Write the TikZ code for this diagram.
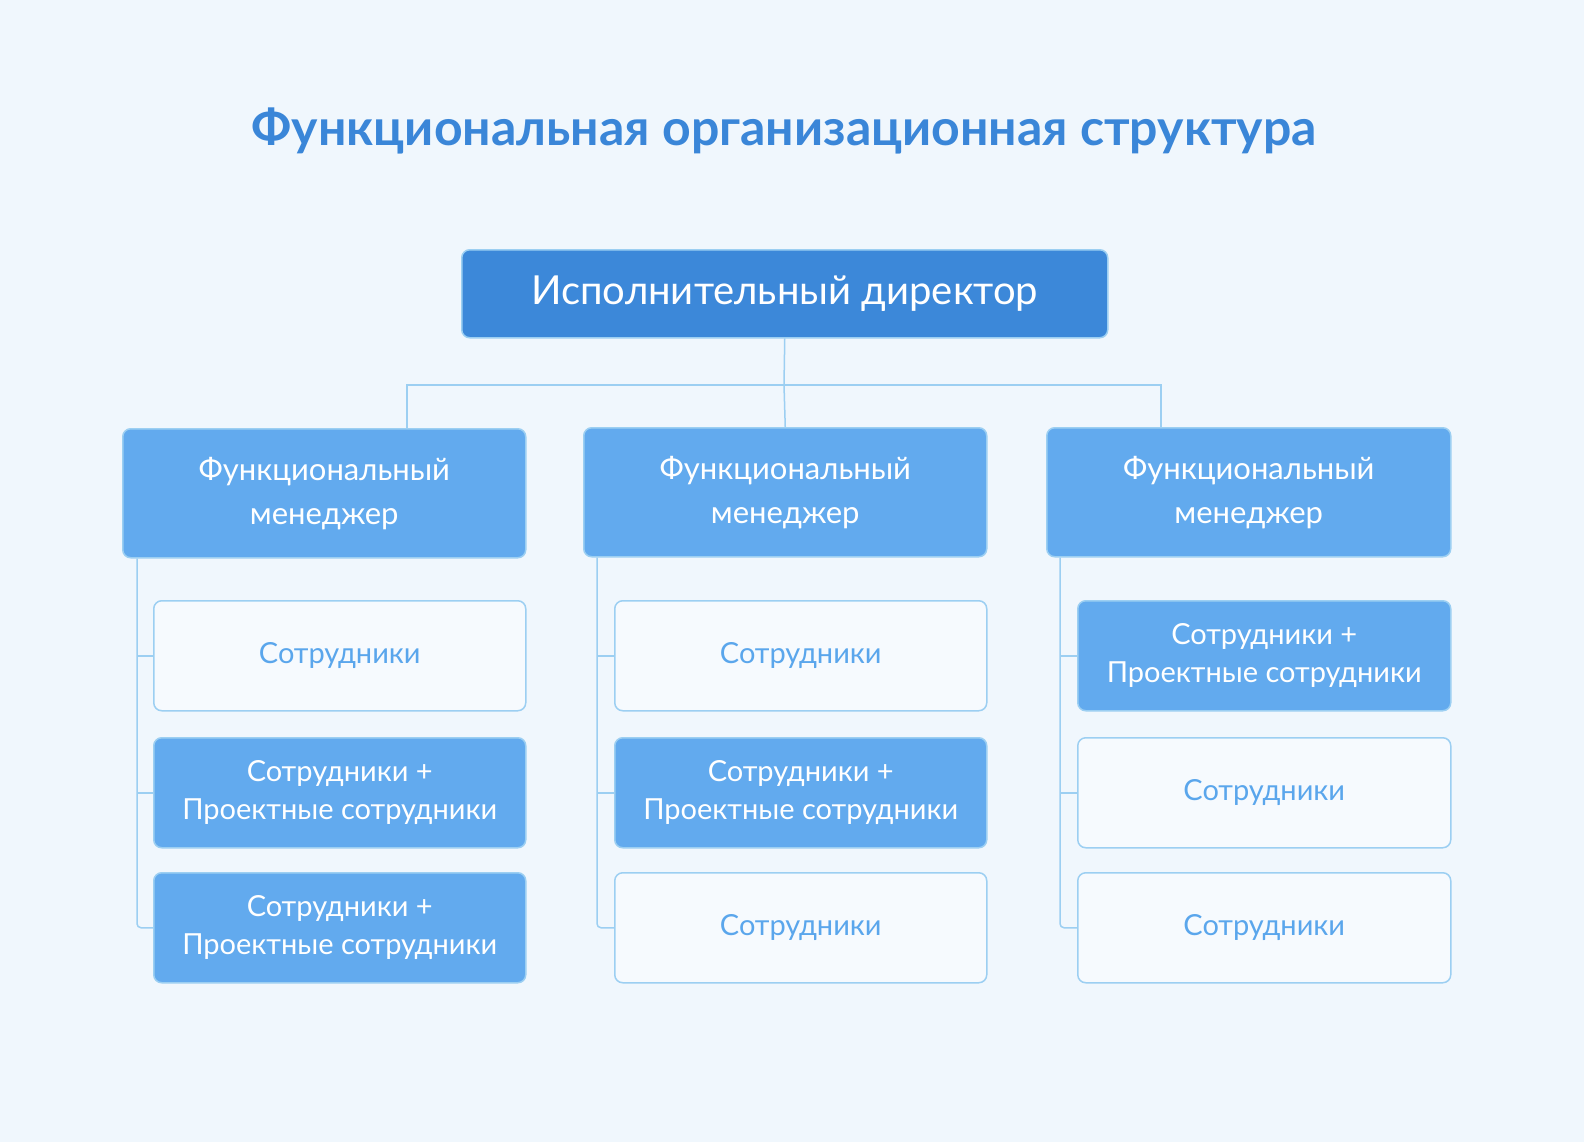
\documentclass[tikz,border=0pt]{standalone}
\usepackage{fontspec}
\setmainfont{Lato}
\definecolor{bg}{HTML}{F0F7FD}
\definecolor{dark}{HTML}{3C88D9}
\definecolor{mid}{HTML}{62AAEE}
\definecolor{edge}{HTML}{9CCFF2}
\definecolor{txt}{HTML}{5AA6EC}
\definecolor{ttl}{HTML}{3A86D8}
\begin{document}
\begin{tikzpicture}[x=1pt,y=-1pt,
  box/.style={draw=edge,line width=1.5pt,rounded corners=8pt,anchor=north west,inner sep=0pt,align=center},
  topbox/.style={box,fill=dark,text=white,font=\fontsize{40}{46}\selectfont},
  mgr/.style={box,fill=mid,text=white,font=\fontsize{31}{44}\selectfont},
  fsub/.style={box,fill=mid,text=white,font=\fontsize{29}{38}\selectfont},
  osub/.style={box,fill=bg!60!white,text=txt,font=\fontsize{29}{38}\selectfont},
  conn/.style={draw=edge,line width=1.5pt}]
\fill[bg] (0,0) rectangle (1584,1142);
\useasboundingbox (0,0) rectangle (1584,1142);
\node[text=ttl,font=\bfseries\fontsize{50}{56}\selectfont] (title) at (784,131) {Функциональная организационная структура};
\node[topbox,minimum width=646pt,minimum height=88pt] (ceo) at (461,249) {Исполнительный директор};
\node[mgr,minimum width=403pt,minimum height=129pt] (m1) at (122,428) {Функциональный\\менеджер};
\node[mgr,minimum width=403pt,minimum height=129pt] (m2) at (583,427) {Функциональный\\менеджер};
\node[mgr,minimum width=404pt,minimum height=129pt] (m3) at (1046,427) {Функциональный\\менеджер};
\coordinate (j) at (784,385);
\draw[conn] (ceo.south) -- (j);
\draw[conn] (j) -- (m2.north);
\draw[conn] (j) -| (m1.north -| 407,0);
\draw[conn] (j) -| (m3.north -| 1161,0);
% subs
\def\W{372pt}\def\H{110pt}
\node[osub,minimum width=\W,minimum height=\H] (a1) at (153,600) {Сотрудники};
\node[fsub,minimum width=\W,minimum height=\H] (a2) at (153,737) {Сотрудники +\\Проектные сотрудники};
\node[fsub,minimum width=\W,minimum height=\H] (a3) at (153,872) {Сотрудники +\\Проектные сотрудники};
\node[osub,minimum width=\W,minimum height=\H] (b1) at (614,600) {Сотрудники};
\node[fsub,minimum width=\W,minimum height=\H] (b2) at (614,737) {Сотрудники +\\Проектные сотрудники};
\node[osub,minimum width=\W,minimum height=\H] (b3) at (614,872) {Сотрудники};
\node[fsub,minimum width=373pt,minimum height=\H] (c1) at (1077,600) {Сотрудники +\\Проектные сотрудники};
\node[osub,minimum width=373pt,minimum height=\H] (c2) at (1077,737) {Сотрудники};
\node[osub,minimum width=373pt,minimum height=\H] (c3) at (1077,872) {Сотрудники};
\foreach \m/\s/\x in {m1/a/137,m2/b/597,m3/c/1060}{
  \draw[conn,rounded corners=4pt] (\m.south -| \x,0) |- (\s3.west);
  \draw[conn] (\s1.west) -- (\s1.west -| \x,0);
  \draw[conn] (\s2.west) -- (\s2.west -| \x,0);
}
\end{tikzpicture}
\end{document}
